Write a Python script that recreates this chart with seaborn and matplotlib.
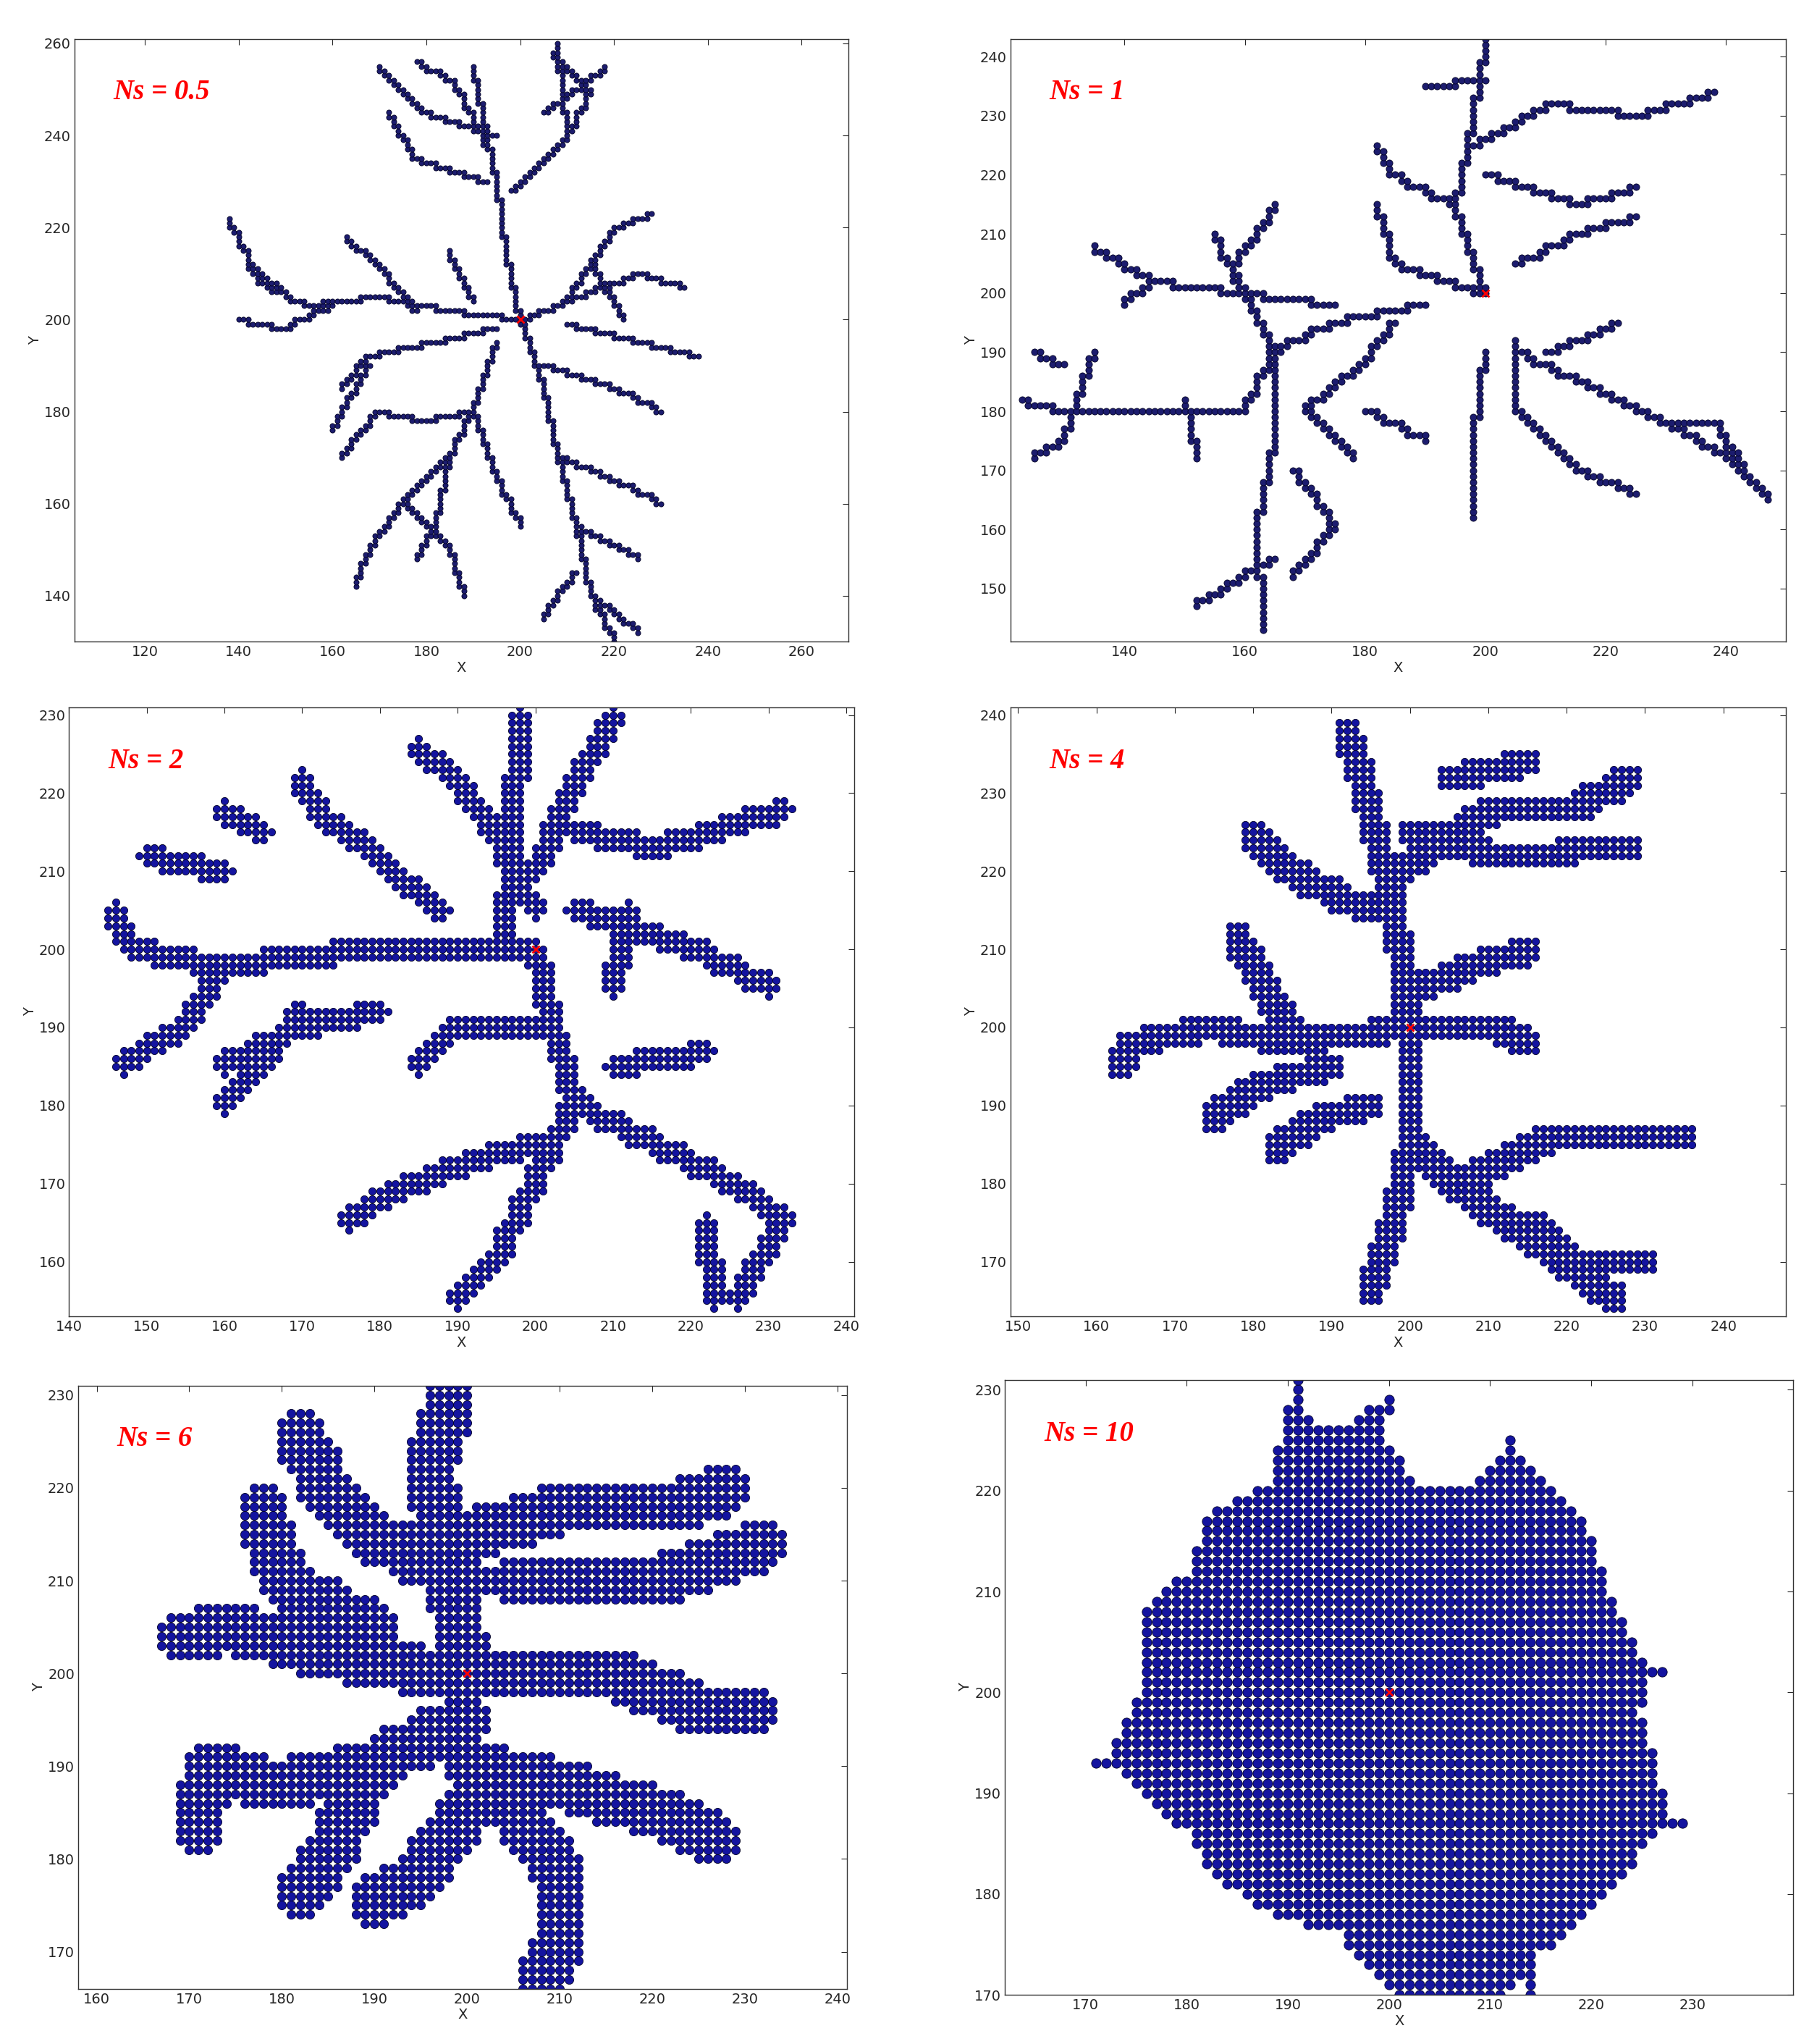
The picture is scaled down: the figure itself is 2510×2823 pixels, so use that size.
import numpy as np
import pandas as pd
import matplotlib
matplotlib.use("Agg")
import matplotlib.pyplot as plt
from matplotlib.path import Path
import seaborn as sns

sns.set_style("white")
plt.rcParams["font.family"] = ["DejaVu Sans"]

# 各面板的聚集体分支(读图得到的折线路径)
branches_05 = [
    [(200, 200), (197, 215), (195, 230), (192, 245), (190, 255)],
    [(195, 240), (180, 245), (170, 255)], [(193, 230), (178, 235), (172, 245)],
    [(198, 228), (210, 240), (215, 250), (207, 258)], [(205, 245), (218, 255)],
    [(194, 236), (186, 252), (178, 256)], [(210, 240), (208, 260)],
    [(200, 200), (185, 202), (170, 205), (155, 203), (145, 208), (138, 222)],
    [(160, 203), (150, 198), (140, 200)], [(178, 202), (170, 212), (163, 218)],
    [(150, 206), (142, 212)], [(190, 204), (185, 215)],
    [(200, 200), (212, 205), (225, 210), (235, 207)], [(210, 205), (220, 220), (228, 223)],
    [(210, 199), (225, 195), (238, 192)], [(215, 212), (222, 200)],
    [(200, 200), (205, 185), (208, 170), (212, 155), (215, 140), (220, 130)],
    [(205, 190), (220, 185), (230, 180)], [(208, 170), (220, 165), (230, 160)],
    [(212, 155), (225, 148)], [(212, 145), (205, 135)], [(215, 140), (225, 132)],
    [(195, 195), (190, 180), (185, 170), (175, 160), (168, 150), (165, 142)],
    [(190, 180), (180, 178), (170, 180), (162, 170)], [(195, 198), (182, 195), (168, 192), (162, 185)],
    [(190, 180), (195, 165), (200, 155)], [(185, 170), (182, 155), (178, 148)],
    [(175, 160), (185, 150), (188, 140)], [(168, 190), (160, 176)],
]
branches_1 = [
    [(200, 200), (195, 215), (198, 230), (200, 243)],
    [(198, 225), (210, 232), (225, 230), (238, 234)], [(200, 220), (215, 215), (225, 218)],
    [(205, 205), (215, 210), (225, 213)], [(195, 215), (185, 220), (182, 225)],
    [(200, 200), (185, 205), (182, 215)], [(190, 235), (200, 236)],
    [(190, 198), (175, 195), (165, 190), (160, 180), (145, 180), (130, 180), (123, 182)],
    [(135, 190), (130, 175), (125, 172)], [(130, 188), (125, 190)],
    [(165, 190), (158, 205), (165, 215)], [(175, 198), (160, 200), (145, 202), (135, 208)],
    [(145, 202), (140, 198)], [(160, 200), (155, 210)],
    [(165, 190), (165, 175), (162, 160), (163, 143)], [(165, 155), (152, 147)],
    [(168, 170), (175, 160), (168, 152)], [(180, 180), (190, 175)], [(150, 182), (152, 172)],
    [(205, 190), (215, 185), (230, 178), (240, 172), (247, 165)],
    [(205, 192), (205, 180), (215, 170), (225, 166)], [(200, 190), (198, 175), (198, 162)],
    [(185, 195), (180, 188), (170, 180), (178, 172)], [(230, 178), (238, 178), (243, 170)],
    [(210, 190), (222, 195)],
]
branches_2 = [
    [(200, 200), (180, 200), (160, 198), (148, 200), (146, 205)],
    [(160, 198), (155, 190), (147, 185)], [(170, 192), (165, 185), (160, 180)],
    [(180, 192), (170, 190), (160, 185)], [(188, 205), (180, 212), (172, 218), (170, 222)],
    [(200, 205), (195, 215), (190, 222), (185, 226)], [(200, 210), (205, 222), (210, 230)],
    [(205, 215), (215, 213), (225, 216), (232, 218)], [(205, 205), (220, 200), (230, 195)],
    [(200, 200), (202, 190), (205, 180), (200, 170), (195, 160), (190, 155)],
    [(205, 180), (215, 175), (225, 170), (232, 165), (226, 155)],
    [(200, 175), (190, 172), (180, 168), (176, 165)], [(200, 190), (190, 190), (185, 185)],
    [(210, 185), (222, 187)], [(222, 165), (223, 155)], [(160, 210), (150, 212)],
    [(196, 200), (198, 230)], [(165, 215), (160, 218)], [(212, 205), (210, 195)],
]
branches_4 = [
    [(200, 200), (198, 215), (195, 228), (192, 238)],
    [(198, 220), (210, 228), (220, 228), (228, 232)], [(195, 215), (185, 220), (180, 225)],
    [(200, 225), (210, 222), (228, 223)], [(200, 200), (185, 198), (175, 200), (165, 198), (163, 195)],
    [(185, 200), (180, 208), (178, 212)], [(190, 195), (180, 192), (175, 188)],
    [(200, 205), (208, 208), (215, 210)], [(200, 200), (210, 200), (215, 198)],
    [(200, 200), (200, 185), (205, 180), (212, 175), (222, 168), (226, 165)],
    [(200, 185), (198, 175), (195, 166)], [(205, 180), (218, 186), (230, 186), (235, 186)],
    [(215, 175), (220, 170), (230, 170)], [(195, 190), (188, 188), (183, 184)],
    [(205, 232), (215, 234)],
]
branches_6 = [
    [(200, 200), (198, 212), (196, 222), (198, 230)],
    [(200, 210), (190, 215), (185, 220), (182, 226)], [(200, 215), (210, 218), (222, 218), (228, 220)],
    [(205, 210), (220, 210), (232, 214)], [(198, 200), (185, 202), (175, 205), (169, 204)],
    [(190, 205), (180, 210), (178, 218)], [(200, 200), (215, 200), (225, 196), (231, 196)],
    [(200, 195), (190, 190), (180, 188), (172, 190), (171, 183)],
    [(200, 190), (205, 185), (210, 178), (210, 170), (208, 167)],
    [(200, 190), (210, 188), (220, 185), (227, 182)], [(190, 190), (185, 180), (182, 176)],
    [(200, 185), (195, 178), (190, 175)],
]
outline_10 = [(172, 193), (175, 200), (175, 208), (180, 212), (182, 218), (188, 221), (190, 228),
              (195, 226), (198, 228), (203, 220), (208, 221), (212, 225), (215, 222), (220, 216),
              (222, 210), (224, 206), (226, 202), (225, 198), (228, 187), (225, 184), (222, 180),
              (218, 176), (215, 174), (212, 170), (205, 168), (200, 170), (195, 176), (188, 178),
              (182, 182), (180, 186), (175, 190)]
tendrils_10 = [[(191, 226), (191, 231)], [(198, 226), (200, 229)], [(214, 174), (214, 170)],
               [(173, 193), (171, 193)], [(226, 187), (229, 187)], [(226, 202), (227, 202)]]

labels = ["Ns = 0.5", "Ns = 1", "Ns = 2", "Ns = 4", "Ns = 6", "Ns = 10"]
xlims = [(105, 270), (121, 250), (140, 241), (149, 248), (158, 241), (162, 240)]
ylims = [(130, 261), (141, 243), (153, 231), (163, 241), (166, 231), (170, 231)]
xticks = [range(120, 261, 20), range(140, 241, 20), range(140, 241, 10),
          range(150, 241, 10), range(160, 241, 10), range(170, 231, 10)]
yticks = [range(140, 261, 20), range(150, 241, 10), range(160, 231, 10),
          range(170, 241, 10), range(170, 231, 10), range(170, 231, 10)]
radius = [0, 0, 1.0, 1.5, 2.3, 0]
positions = [(0.041, 0.686, 0.426, 0.295), (0.556, 0.686, 0.427, 0.295),
             (0.038, 0.356, 0.432, 0.298), (0.556, 0.356, 0.427, 0.298),
             (0.043, 0.027, 0.423, 0.295), (0.553, 0.024, 0.434, 0.301)]


def rasterize(paths, r):
    # 在格点上沿路径走（只走上下左右），得到格点团簇
    pts = set()
    offs = [(i, j) for i in range(-3, 4) for j in range(-3, 4) if i * i + j * j <= r * r + 1e-9]
    for p in paths:
        for (x0, y0), (x1, y1) in zip(p[:-1], p[1:]):
            n = int(max(abs(x1 - x0), abs(y1 - y0))) or 1
            px, py = round(x0), round(y0)
            cells = [(px, py)]
            for t in range(1, n + 1):
                x = round(x0 + (x1 - x0) * t / n)
                y = round(y0 + (y1 - y0) * t / n)
                if x != px and y != py:
                    cells.append((x, py))
                cells.append((x, y))
                px, py = x, y
            for cx, cy in cells:
                for i, j in offs:
                    pts.add((cx + i, cy + j))
    return pts


def fill_outline(outline):
    path = Path(outline + [outline[0]])
    xs, ys = np.meshgrid(np.arange(165, 235), np.arange(165, 235))
    grid = np.column_stack([xs.ravel(), ys.ravel()])
    inside = path.contains_points(grid)
    return {tuple(p) for p in grid[inside]}


sets = [rasterize(branches_05, 0), rasterize(branches_1, 0), rasterize(branches_2, 1.0),
        rasterize(branches_4, 1.5), rasterize(branches_6, 2.3),
        fill_outline(outline_10) | rasterize(tendrils_10, 0)]

fig = plt.figure(figsize=(25.1, 28.23), dpi=100)
for k in range(6):
    ax = fig.add_axes(positions[k])
    df = pd.DataFrame(sorted(sets[k]), columns=["x", "y"])
    w_px = positions[k][2] * 2510
    d_pt = w_px / (xlims[k][1] - xlims[k][0]) * (1.1 if k < 2 else 0.95) * 72 / 100
    face = "#1c1c6e" if k < 2 else "#1414a0"
    sns.scatterplot(data=df, x="x", y="y", ax=ax, s=d_pt ** 2, color=face,
                    edgecolor="#000022", linewidth=0.6)
    ax.plot([200], [200], marker="x", color="red", ms=7, mew=2)
    ax.set_xlim(*xlims[k])
    ax.set_ylim(*ylims[k])
    ax.set_xticks(list(xticks[k]))
    ax.set_yticks(list(yticks[k]))
    ax.tick_params(direction="in", top=True, right=True, labelsize=14, length=6)
    ax.set_xlabel("X", fontsize=14, labelpad=2)
    ax.set_ylabel("Y", fontsize=14, labelpad=2)
    for s in ax.spines.values():
        s.set_color("#333333")
        s.set_linewidth(1)
    ax.text(0.05, 0.9, labels[k], transform=ax.transAxes, color="red", fontsize=28,
            fontstyle="italic", fontweight="bold", family=["Liberation Serif", "DejaVu Serif"])

fig.savefig("out.png", dpi=100)
